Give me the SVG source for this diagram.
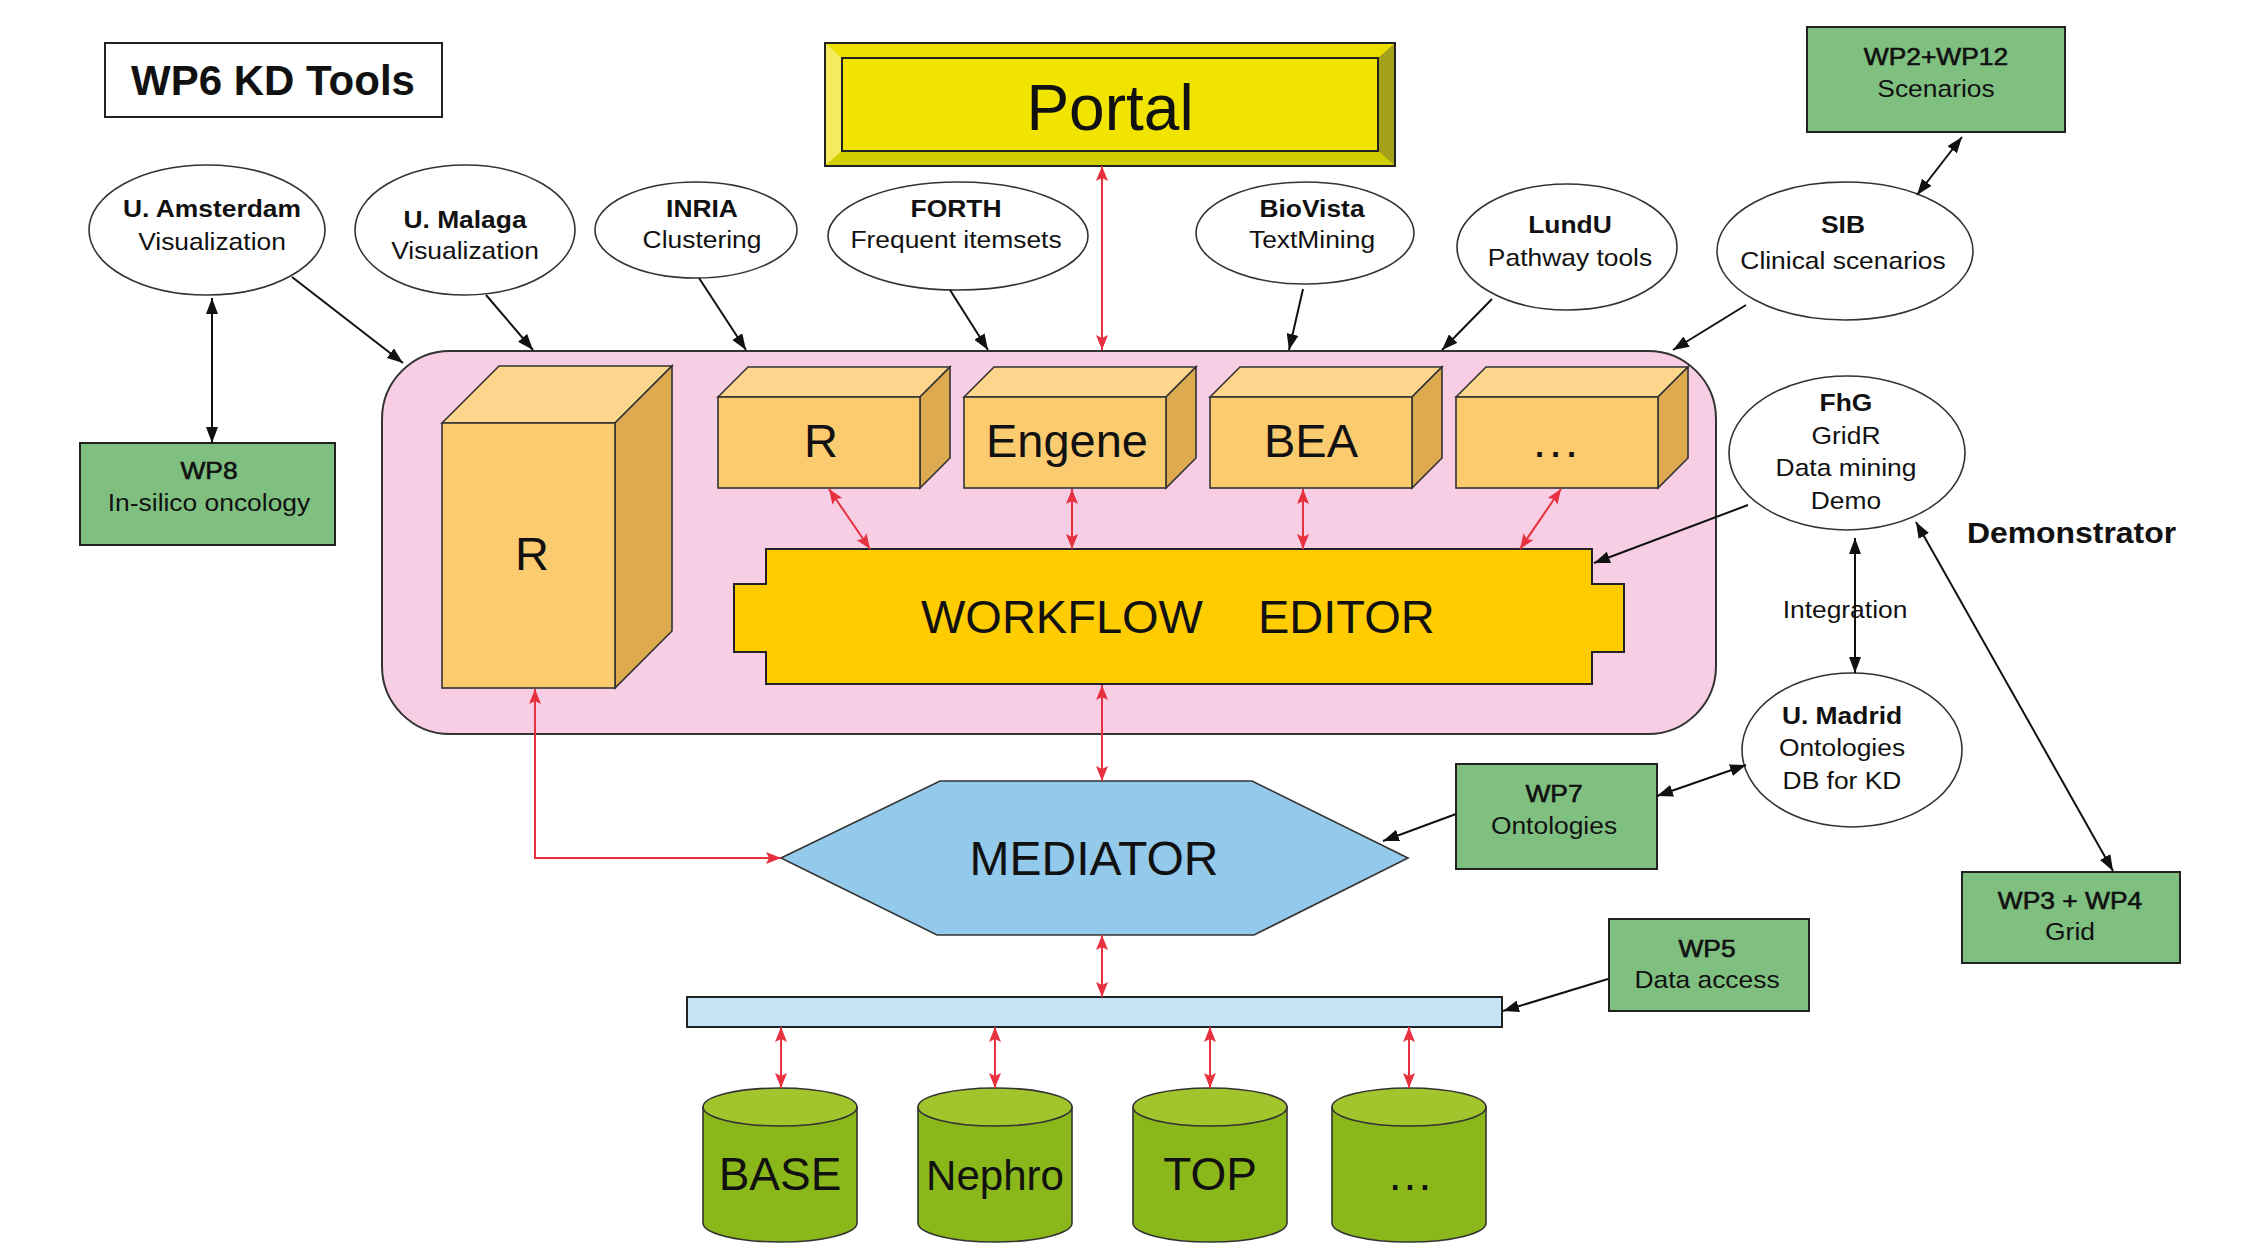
<svg xmlns="http://www.w3.org/2000/svg" width="2256" height="1246" viewBox="0 0 2256 1246">
<style>
text{font-family:"Liberation Sans",Arial,sans-serif;fill:#111}
.s{font-size:24px;text-anchor:middle}
.b{font-weight:bold}
.m{stroke:#111;stroke-width:0.6px}
.big{font-size:47px;text-anchor:middle}
.ell{fill:#fff;stroke:#333;stroke-width:1.6}
.grn{fill:#7FBF80;stroke:#222;stroke-width:2}
.bf{fill:#FACB6F;stroke:#333;stroke-width:1.6}
.bt{fill:#FDD58C;stroke:#333;stroke-width:1.6}
.bs{fill:#DDAA50;stroke:#333;stroke-width:1.6}
.cb{fill:#8AB71A;stroke:#333;stroke-width:1.6}
.ct{fill:#A2C42C;stroke:#333;stroke-width:1.6}
.k{stroke:#111;stroke-width:2;fill:none}
.r{stroke:#E8313F;stroke-width:2;fill:none}
</style>
<defs>
<marker id="ak" viewBox="0 0 16 12" refX="16" refY="6" markerWidth="16" markerHeight="12" markerUnits="userSpaceOnUse" orient="auto-start-reverse"><path d="M0,0 L16,6 L0,12 z" fill="#111"/></marker>
<marker id="ar" viewBox="0 0 15 12" refX="15" refY="6" markerWidth="15" markerHeight="12" markerUnits="userSpaceOnUse" orient="auto-start-reverse"><path d="M0,0 L15,6 L0,12 L3,6 z" fill="#E8313F"/></marker>
</defs>
<rect width="2256" height="1246" fill="#fff"/>

<g id="title">
<rect x="105" y="43" width="337" height="74" fill="#fff" stroke="#222" stroke-width="2"/>
<text x="273" y="95" font-size="42" font-weight="bold" text-anchor="middle">WP6 KD Tools</text>
</g>

<g id="portal">
<rect x="825" y="43" width="570" height="123" fill="#F0E400" stroke="#222" stroke-width="2"/>
<polygon points="825,43 1395,43 1378,58 842,58" fill="#ECE000"/>
<polygon points="825,43 842,58 842,151 825,166" fill="#F6EA5E"/>
<polygon points="1395,43 1395,166 1378,151 1378,58" fill="#A3A11A"/>
<polygon points="825,166 842,151 1378,151 1395,166" fill="#D2CF00"/>
<rect x="825" y="43" width="570" height="123" fill="none" stroke="#222" stroke-width="2"/>
<rect x="842" y="58" width="536" height="93" fill="#F0E400" stroke="#222" stroke-width="2"/>
<text x="1110" y="130" font-size="64" text-anchor="middle">Portal</text>
</g>

<g id="kd-container">
<rect x="382" y="351" width="1334" height="383" rx="68" fill="#F7CEE3" stroke="#333" stroke-width="2"/>
</g>

<g id="r-big">
<polygon class="bt" points="442,423 499,366 672,366 615,423"/>
<polygon class="bs" points="615,423 672,366 672,631 615,688"/>
<rect class="bf" x="442" y="423" width="173" height="265"/>
<text class="big" x="532" y="570">R</text>
</g>
<g id="r-small">
<polygon class="bt" points="718,397 748,367 950,367 920,397"/>
<polygon class="bs" points="920,397 950,367 950,458 920,488"/>
<rect class="bf" x="718" y="397" width="202" height="91"/>
<text class="big" x="821" y="457">R</text>
</g>
<g id="engene">
<polygon class="bt" points="964,397 994,367 1196,367 1166,397"/>
<polygon class="bs" points="1166,397 1196,367 1196,458 1166,488"/>
<rect class="bf" x="964" y="397" width="202" height="91"/>
<text class="big" x="1067" y="457">Engene</text>
</g>
<g id="bea">
<polygon class="bt" points="1210,397 1240,367 1442,367 1412,397"/>
<polygon class="bs" points="1412,397 1442,367 1442,458 1412,488"/>
<rect class="bf" x="1210" y="397" width="202" height="91"/>
<text class="big" x="1311" y="457">BEA</text>
</g>
<g id="more-tools">
<polygon class="bt" points="1456,397 1486,367 1688,367 1658,397"/>
<polygon class="bs" points="1658,397 1688,367 1688,458 1658,488"/>
<rect class="bf" x="1456" y="397" width="202" height="91"/>
<text class="big" x="1557" y="457" letter-spacing="3">...</text>
</g>

<g id="workflow-editor">
<path d="M766,549 H1592 V584 H1624 V652 H1592 V684 H766 V652 H734 V584 H766 Z" fill="#FFCC00" stroke="#222" stroke-width="2"/>
<text x="921" y="633" font-size="47">WORKFLOW</text>
<text x="1258" y="633" font-size="47">EDITOR</text>
</g>

<g id="mediator">
<polygon points="781,858 940,781 1252,781 1408,858 1254,935 937,935" fill="#93C9EA" stroke="#333" stroke-width="1.6"/>
<text x="1094" y="875" font-size="48" text-anchor="middle">MEDIATOR</text>
</g>

<g id="bus">
<rect x="687" y="997" width="815" height="30" fill="#C5E5F7" stroke="#222" stroke-width="2"/>
</g>

<g id="db-base">
<path class="cb" d="M703,1107 V1223 A77,19 0 0 0 857,1223 V1107 Z"/>
<ellipse class="ct" cx="780" cy="1107" rx="77" ry="19"/>
<text x="780" y="1190" font-size="46" text-anchor="middle">BASE</text>
</g>
<g id="db-nephro">
<path class="cb" d="M918,1107 V1223 A77,19 0 0 0 1072,1223 V1107 Z"/>
<ellipse class="ct" cx="995" cy="1107" rx="77" ry="19"/>
<text x="995" y="1190" font-size="42" text-anchor="middle">Nephro</text>
</g>
<g id="db-top">
<path class="cb" d="M1133,1107 V1223 A77,19 0 0 0 1287,1223 V1107 Z"/>
<ellipse class="ct" cx="1210" cy="1107" rx="77" ry="19"/>
<text x="1210" y="1190" font-size="46" text-anchor="middle">TOP</text>
</g>
<g id="db-more">
<path class="cb" d="M1332,1107 V1223 A77,19 0 0 0 1486,1223 V1107 Z"/>
<ellipse class="ct" cx="1409" cy="1107" rx="77" ry="19"/>
<text x="1411" y="1190" font-size="46" text-anchor="middle" letter-spacing="2">...</text>
</g>

<g id="u-amsterdam">
<ellipse class="ell" cx="207" cy="230" rx="118" ry="65"/>
<text class="s" transform="translate(212 0) scale(1.1 1)"><tspan class="b" x="0" y="217">U. Amsterdam</tspan><tspan x="0" y="250">Visualization</tspan></text>
</g>
<g id="u-malaga">
<ellipse class="ell" cx="465" cy="230" rx="110" ry="65"/>
<text class="s" transform="translate(465 0) scale(1.1 1)"><tspan class="b" x="0" y="228">U. Malaga</tspan><tspan x="0" y="259">Visualization</tspan></text>
</g>
<g id="inria">
<ellipse class="ell" cx="696" cy="230" rx="101" ry="48"/>
<text class="s" transform="translate(702 0) scale(1.1 1)"><tspan class="b" x="0" y="217">INRIA</tspan><tspan x="0" y="248">Clustering</tspan></text>
</g>
<g id="forth">
<ellipse class="ell" cx="958" cy="236" rx="130" ry="54"/>
<text class="s" transform="translate(956 0) scale(1.1 1)"><tspan class="b" x="0" y="217">FORTH</tspan><tspan x="0" y="248">Frequent itemsets</tspan></text>
</g>
<g id="biovista">
<ellipse class="ell" cx="1305" cy="233" rx="109" ry="51"/>
<text class="s" transform="translate(1312 0) scale(1.1 1)"><tspan class="b" x="0" y="217">BioVista</tspan><tspan x="0" y="248">TextMining</tspan></text>
</g>
<g id="lundu">
<ellipse class="ell" cx="1567" cy="247" rx="110" ry="63"/>
<text class="s" transform="translate(1570 0) scale(1.1 1)"><tspan class="b" x="0" y="233">LundU</tspan><tspan x="0" y="266">Pathway tools</tspan></text>
</g>
<g id="sib">
<ellipse class="ell" cx="1845" cy="251" rx="128" ry="69"/>
<text class="s" transform="translate(1843 0) scale(1.1 1)"><tspan class="b" x="0" y="233">SIB</tspan><tspan x="0" y="269">Clinical scenarios</tspan></text>
</g>
<g id="fhg">
<ellipse class="ell" cx="1847" cy="453" rx="118" ry="77"/>
<text class="s" transform="translate(1846 0) scale(1.1 1)"><tspan class="b" x="0" y="411">FhG</tspan><tspan x="0" y="444">GridR</tspan><tspan x="0" y="476">Data mining</tspan><tspan x="0" y="509">Demo</tspan></text>
</g>
<g id="u-madrid">
<ellipse class="ell" cx="1852" cy="750" rx="110" ry="77"/>
<text class="s" transform="translate(1842 0) scale(1.1 1)"><tspan class="b" x="0" y="724">U. Madrid</tspan><tspan x="0" y="756">Ontologies</tspan><tspan x="0" y="789">DB for KD</tspan></text>
</g>

<g id="wp8">
<rect class="grn" x="80" y="443" width="255" height="102"/>
<text class="s" transform="translate(209 0) scale(1.1 1)"><tspan class="m" x="0" y="479">WP8</tspan><tspan x="0" y="511">In-silico oncology</tspan></text>
</g>
<g id="wp2-wp12">
<rect class="grn" x="1807" y="27" width="258" height="105"/>
<text class="s" transform="translate(1936 0) scale(1.1 1)"><tspan class="m" x="0" y="65">WP2+WP12</tspan><tspan x="0" y="97">Scenarios</tspan></text>
</g>
<g id="wp7">
<rect class="grn" x="1456" y="764" width="201" height="105"/>
<text class="s" transform="translate(1554 0) scale(1.1 1)"><tspan class="m" x="0" y="802">WP7</tspan><tspan x="0" y="834">Ontologies</tspan></text>
</g>
<g id="wp5">
<rect class="grn" x="1609" y="919" width="200" height="92"/>
<text class="s" transform="translate(1707 0) scale(1.1 1)"><tspan class="m" x="0" y="957">WP5</tspan><tspan x="0" y="988">Data access</tspan></text>
</g>
<g id="wp3-wp4">
<rect class="grn" x="1962" y="872" width="218" height="91"/>
<text class="s" transform="translate(2070 0) scale(1.1 1)"><tspan class="m" x="0" y="909">WP3 + WP4</tspan><tspan x="0" y="940">Grid</tspan></text>
</g>

<g id="demonstrator-label">
<text transform="translate(1967 0) scale(1.1 1)" x="0" y="543" font-size="29" font-weight="bold">Demonstrator</text>
</g>

<g id="connectors">
<line class="k" x1="292" y1="277" x2="403" y2="363" marker-end="url(#ak)"/>
<line class="k" x1="212" y1="298" x2="212" y2="443" marker-start="url(#ak)" marker-end="url(#ak)"/>
<line class="k" x1="486" y1="295" x2="533" y2="350" marker-end="url(#ak)"/>
<line class="k" x1="699" y1="278" x2="746" y2="350" marker-end="url(#ak)"/>
<line class="k" x1="950" y1="290" x2="988" y2="350" marker-end="url(#ak)"/>
<line class="k" x1="1303" y1="289" x2="1289" y2="350" marker-end="url(#ak)"/>
<line class="k" x1="1492" y1="299" x2="1442" y2="350" marker-end="url(#ak)"/>
<line class="k" x1="1746" y1="305" x2="1673" y2="350" marker-end="url(#ak)"/>
<line class="k" x1="1962" y1="137" x2="1917" y2="195" marker-start="url(#ak)" marker-end="url(#ak)"/>
<line class="k" x1="1748" y1="505" x2="1594" y2="563" marker-end="url(#ak)"/>
<line class="k" x1="1855" y1="538" x2="1855" y2="673" marker-start="url(#ak)" marker-end="url(#ak)"/>
<line class="k" x1="1916" y1="522" x2="2113" y2="871" marker-start="url(#ak)" marker-end="url(#ak)"/>
<line class="k" x1="1746" y1="765" x2="1657" y2="796" marker-start="url(#ak)" marker-end="url(#ak)"/>
<line class="k" x1="1456" y1="814" x2="1383" y2="841" marker-end="url(#ak)"/>
<line class="k" x1="1608" y1="979" x2="1503" y2="1011" marker-end="url(#ak)"/>

<line class="r" x1="1102" y1="166" x2="1102" y2="350" marker-start="url(#ar)" marker-end="url(#ar)"/>
<line class="r" x1="829" y1="489" x2="870" y2="549" marker-start="url(#ar)" marker-end="url(#ar)"/>
<line class="r" x1="1072" y1="489" x2="1072" y2="549" marker-start="url(#ar)" marker-end="url(#ar)"/>
<line class="r" x1="1303" y1="489" x2="1303" y2="549" marker-start="url(#ar)" marker-end="url(#ar)"/>
<line class="r" x1="1561" y1="489" x2="1520" y2="549" marker-start="url(#ar)" marker-end="url(#ar)"/>
<line class="r" x1="1102" y1="685" x2="1102" y2="781" marker-start="url(#ar)" marker-end="url(#ar)"/>
<path class="r" d="M535,689 V858 H781" marker-start="url(#ar)" marker-end="url(#ar)"/>
<line class="r" x1="1102" y1="935" x2="1102" y2="997" marker-start="url(#ar)" marker-end="url(#ar)"/>
<line class="r" x1="781" y1="1027" x2="781" y2="1088" marker-start="url(#ar)" marker-end="url(#ar)"/>
<line class="r" x1="995" y1="1027" x2="995" y2="1088" marker-start="url(#ar)" marker-end="url(#ar)"/>
<line class="r" x1="1210" y1="1027" x2="1210" y2="1088" marker-start="url(#ar)" marker-end="url(#ar)"/>
<line class="r" x1="1409" y1="1027" x2="1409" y2="1088" marker-start="url(#ar)" marker-end="url(#ar)"/>
<text class="s" transform="translate(1845 0) scale(1.1 1)" x="0" y="618">Integration</text>
</g>
</svg>
